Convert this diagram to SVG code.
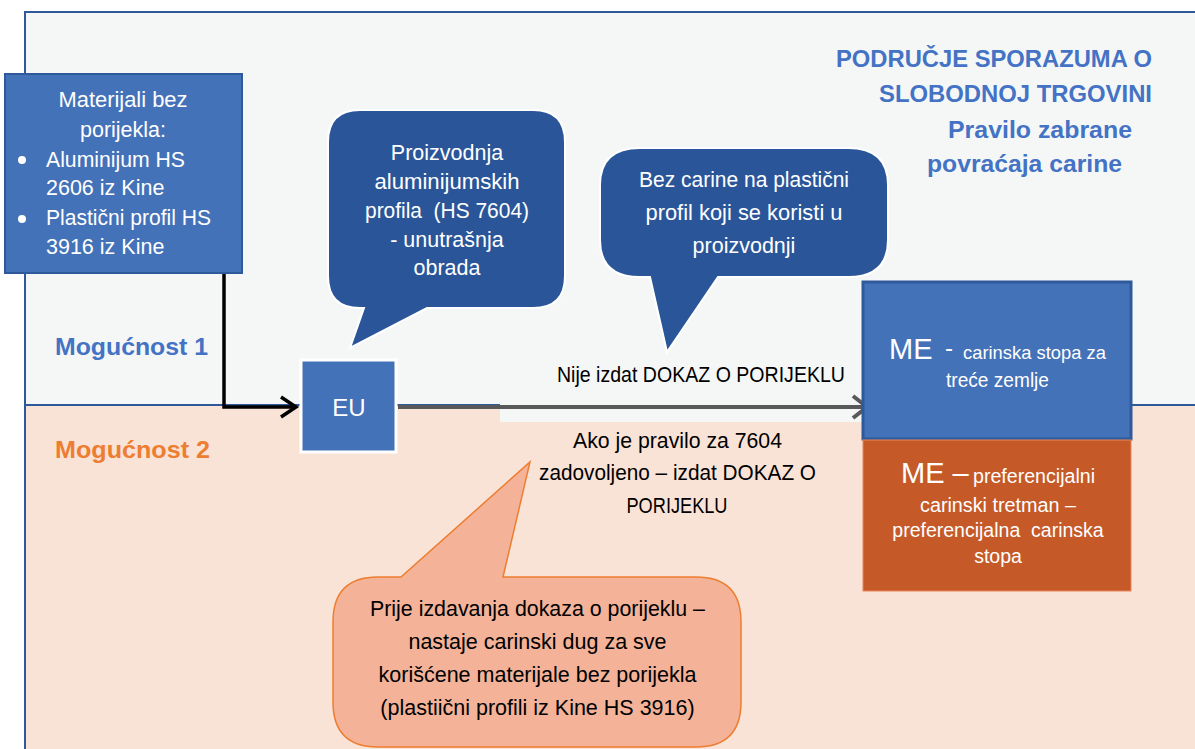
<svg xmlns="http://www.w3.org/2000/svg" width="1195" height="749" viewBox="0 0 1195 749">
<style>
.t{font-family:"Liberation Sans",Arial,sans-serif;font-size:21.5px}
.w{fill:#ffffff}
.k{fill:#000000}
.c{text-anchor:middle}
.ttl{font-family:"Liberation Sans",Arial,sans-serif;font-weight:bold;font-size:23px;fill:#4472c4}
</style>
<g id="background">
<rect x="25" y="12" width="1180" height="393" fill="#f5f7f7" stroke="#2e5a9c" stroke-width="2"/>
<rect x="25" y="405" width="1180" height="350" fill="#f9e3d6"/>
<line x1="25" y1="404" x2="25" y2="749" stroke="#2e5a9c" stroke-width="2"/>
<line x1="25" y1="405" x2="1195" y2="405" stroke="#2e5a9c" stroke-width="2"/>
<rect x="500" y="360" width="362" height="62" fill="#f5f7f7"/>
</g>
<g id="title">
<text class="ttl" x="836" y="67" textLength="316" lengthAdjust="spacingAndGlyphs">PODRUČJE SPORAZUMA O</text>
<text class="ttl" x="879" y="102" textLength="273" lengthAdjust="spacingAndGlyphs">SLOBODNOJ TRGOVINI</text>
<text class="ttl" x="948" y="138" textLength="184" lengthAdjust="spacingAndGlyphs">Pravilo zabrane</text>
<text class="ttl" x="927" y="172" textLength="195" lengthAdjust="spacingAndGlyphs">povraćaja carine</text>
</g>
<g id="label-mogucnost1">
<text class="ttl" x="55" y="355" textLength="153" lengthAdjust="spacingAndGlyphs">Mogućnost 1</text>
</g>
<g id="label-mogucnost2">
<text class="ttl" x="55" y="458" textLength="155" lengthAdjust="spacingAndGlyphs" style="fill:#ed7d31">Mogućnost 2</text>
</g>
<g id="connectors" fill="none">
<polyline points="224,273 224,407 296,407" stroke="#000000" stroke-width="3.5"/>
<polyline points="281,397 296,407 281,417" stroke="#000000" stroke-width="3.5"/>
<line x1="398" y1="407" x2="866" y2="407" stroke="#595959" stroke-width="4"/>
<polyline points="853,396 867,407 853,418" stroke="#595959" stroke-width="4"/>
</g>
<g id="node-materijali">
<rect x="5" y="74" width="237" height="199" fill="#4472b8" stroke="#2e5a9c" stroke-width="2"/>
<text class="t w c" x="123" y="107" textLength="129" lengthAdjust="spacingAndGlyphs">Materijali bez</text>
<text class="t w c" x="123" y="137">porijekla:</text>
<circle cx="22" cy="160" r="4" fill="#ffffff"/>
<circle cx="22" cy="219" r="4" fill="#ffffff"/>
<text class="t w" x="46" y="167" textLength="139" lengthAdjust="spacingAndGlyphs">Aluminijum HS</text>
<text class="t w" x="46" y="195">2606 iz Kine</text>
<text class="t w" x="46" y="225" textLength="165" lengthAdjust="spacingAndGlyphs">Plastični profil HS</text>
<text class="t w" x="46" y="254">3916 iz Kine</text>
</g>
<g id="node-eu">
<rect x="301" y="360" width="95" height="92" fill="#4472b8" stroke="#ffffff" stroke-width="3"/>
<text class="t w c" x="349" y="416" style="font-size:24px">EU</text>
</g>
<g id="callout-proizvodnja">
<path d="M362,110 H533 Q565,110 565,142 V276 Q565,308 533,308 H427 L350,348 L364,308 H360 Q328,308 328,276 V142 Q328,110 360,110 Z" fill="#2a5699" stroke="#ffffff" stroke-width="2"/>
<text class="t w c" x="447" y="160">Proizvodnja</text>
<text class="t w c" x="447" y="189" textLength="145" lengthAdjust="spacingAndGlyphs">aluminijumskih</text>
<text class="t w c" x="447" y="218" xml:space="preserve" textLength="164" lengthAdjust="spacingAndGlyphs">profila  (HS 7604)</text>
<text class="t w c" x="447" y="247">- unutrašnja</text>
<text class="t w c" x="447" y="275">obrada</text>
</g>
<g id="callout-bez-carine">
<path d="M640,148 H848 Q888,148 888,185 V240 Q888,277 848,277 H718 L667,352 L650,277 H640 Q600,277 600,240 V185 Q600,148 640,148 Z" fill="#2a5699" stroke="#ffffff" stroke-width="2"/>
<text class="t w c" x="744" y="187" textLength="210" lengthAdjust="spacingAndGlyphs">Bez carine na plastični</text>
<text class="t w c" x="744" y="220" textLength="197" lengthAdjust="spacingAndGlyphs">profil koji se koristi u</text>
<text class="t w c" x="744" y="253">proizvodnji</text>
</g>
<g id="label-nije">
<text class="t k c" x="701" y="382" textLength="288" lengthAdjust="spacingAndGlyphs">Nije izdat DOKAZ O PORIJEKLU</text>
</g>
<g id="label-ako">
<text class="t k c" x="677.5" y="448" textLength="209" lengthAdjust="spacingAndGlyphs">Ako je pravilo za 7604</text>
<text class="t k c" x="677.5" y="480" textLength="277" lengthAdjust="spacingAndGlyphs">zadovoljeno – izdat DOKAZ O</text>
<text class="t k c" x="677" y="513" textLength="101" lengthAdjust="spacingAndGlyphs">PORIJEKLU</text>
</g>
<g id="node-me1">
<rect x="863" y="282" width="268" height="157" fill="#4472b8" stroke="#2e5a9c" stroke-width="3"/>
<text class="t w" x="889" y="359" style="font-size:29px">ME</text>
<text class="t w" x="945" y="356" style="font-size:24px">-</text>
<text class="t w" x="963" y="359" style="font-size:19px" textLength="143" lengthAdjust="spacingAndGlyphs">carinska stopa za</text>
<text class="t w c" x="997.5" y="387" style="font-size:19.5px" textLength="103" lengthAdjust="spacingAndGlyphs">treće zemlje</text>
</g>
<g id="node-me2">
<rect x="863" y="440" width="268" height="151" fill="#c55a28" stroke="#e9865a" stroke-width="1"/>
<text class="t w" x="901" y="483" style="font-size:29px">ME –</text>
<text class="t w" x="973" y="483" style="font-size:19.5px" textLength="122" lengthAdjust="spacingAndGlyphs">preferencijalni</text>
<text class="t w c" x="998" y="512" style="font-size:19.5px" textLength="156" lengthAdjust="spacingAndGlyphs">carinski tretman –</text>
<text class="t w c" x="998" y="537" style="font-size:19.5px" xml:space="preserve">preferencijalna  carinska</text>
<text class="t w c" x="998" y="563" style="font-size:19.5px">stopa</text>
</g>
<g id="callout-prije">
<path d="M378,577 H401 L530,462 L503,577 H696 Q741,577 741,622 V702 Q741,747 696,747 H378 Q333,747 333,702 V622 Q333,577 378,577 Z" fill="#f4b398" stroke="#ed7d31" stroke-width="1.5"/>
<text class="t k c" x="537.5" y="616" textLength="335" lengthAdjust="spacingAndGlyphs">Prije izdavanja dokaza o porijeklu –</text>
<text class="t k c" x="537.5" y="649">nastaje carinski dug za sve</text>
<text class="t k c" x="537.5" y="682">korišćene materijale bez porijekla</text>
<text class="t k c" x="537.5" y="715">(plastiični profili iz Kine HS 3916)</text>
</g>
</svg>
